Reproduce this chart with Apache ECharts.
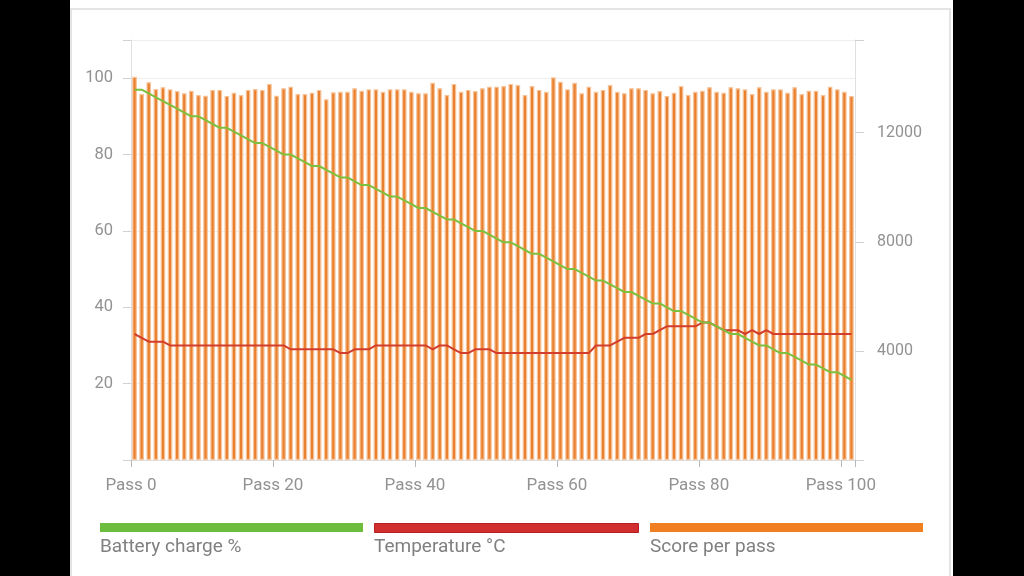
<!DOCTYPE html>
<html><head><meta charset="utf-8">
<script src="https://cdn.jsdelivr.net/npm/echarts@6/dist/echarts.min.js"></script>
<style>
html,body{margin:0;padding:0;background:#000;width:1024px;height:576px;overflow:hidden}
#panel{position:absolute;left:70px;top:0;width:883px;height:576px;background:#fff}
#card{position:absolute;left:70px;top:8px;width:881px;height:580px;border:2px solid #e4e4e4;border-bottom:none;box-sizing:border-box}
#chart{position:absolute;left:0;top:0;width:1024px;height:576px}
</style></head>
<body><div id="panel"></div><div id="card"></div><div id="chart"></div>
<script>
// Pass index of every test run
const passes = Array.from({length: 102}, (_, i) => i);

// Score per pass (right axis)
const scores = [
  14050,13420,13850,13600,13670,13590,13530,13450,13540,13380,
  13360,13570,13570,13350,13470,13380,13570,13600,13570,13790,
  13360,13630,13690,13420,13420,13470,13570,13230,13480,13500,
  13500,13630,13540,13590,
  13590,13500,13590,13590,13590,13500,13450,13450,13830,13630,
  13380,13790,13500,13570,13530,13630,13690,13690,13710,13790,
  13750,13380,13710,13570,13500,14030,13870,13590,13830,13450,
  13690,13500,13570,13750,13500,13450,13630,13630,13570,13450,
  13530,13350,
  13470,13710,13380,13500,13540,13670,13500,13470,13670,13630,
  13590,13420,13670,13500,13590,13590,13470,13670,13420,13540,
  13540,13380,13690,13590,13500,13350
];

// Battery charge % (left axis)
const battery = [
  97,97,96,95,94,93,92,91,90,90,89,88,87,87,86,85,84,83,83,82,
  81,80,80,79,78,77,77,76,75,74,74,73,72,72,71,70,69,69,68,67,
  66,66,65,64,63,63,62,61,60,60,59,58,57,57,56,55,54,54,53,52,
  51,50,50,49,48,47,47,46,45,44,44,43,42,41,41,40,39,39,38,37,
  36,36,35,34,33,33,32,31,30,30,29,28,28,27,26,25,25,24,23,23,
  22,21
];

// Temperature °C (left axis)
const temperature = [
  33,32,31,31,31,
  30,30,30,30,30,30,30,30,30,30,30,30,30,30,30,30,30,
  29,29,29,29,29,29,29,
  28,28,
  29,29,29,
  30,30,30,30,30,30,30,30,
  29,30,30,29,28,28,
  29,29,29,
  28,28,28,28,28,28,28,28,28,28,28,28,28,28,
  30,30,30,
  31,32,32,32,
  33,33,
  34,
  35,35,35,35,35,
  36,36,
  35,
  34,34,34,
  33,34,33,34,
  33,33,33,33,33,33,33,33,33,33,33,33
];

const leftTicks = [20, 40, 60, 80, 100];
const rightTicks = [4000, 8000, 12000];
const passTicks = [0, 20, 40, 60, 80, 100];

const seriesNames = ['Battery charge %', 'Temperature °C', 'Score per pass'];
const seriesColors = ['#6dbd3d', '#d12f2f', '#f07f22'];

const chart = echarts.init(document.getElementById('chart'));
const labelColor = '#929292';
const font = 'Roboto, "Noto Sans", sans-serif';

const legendGraphics = [];
const legendX = [100, 374, 650];
const legendW = [263, 264, 273];
seriesNames.forEach((n, i) => {
  legendGraphics.push({
    type: 'rect', left: legendX[i], top: 523,
    shape: {width: legendW[i], height: 9},
    style: {fill: seriesColors[i], stroke: i === 1 ? '#b52121' : null, lineWidth: i === 1 ? 1 : 0}
  });
  legendGraphics.push({
    type: 'text', left: legendX[i], top: 538,
    style: {text: n, fill: '#808080', font: '19px ' + font}
  });
});

chart.setOption({
  animation: false,
  backgroundColor: 'transparent',
  textStyle: {fontFamily: font},
  grid: {left: 131, right: 169, top: 40, bottom: 116, containLabel: false},
  xAxis: [
    {
      type: 'value', min: 0, max: 102, interval: 20, position: 'bottom',
      axisLine: {show: true, lineStyle: {color: '#dcdcdc', width: 1}},
      axisTick: {show: true, length: 7, lineStyle: {color: '#b8b8b8'}},
      axisLabel: {
        margin: 17, color: labelColor, fontSize: 17, fontFamily: font,
        formatter: v => passTicks.indexOf(v) >= 0 ? 'Pass ' + v : ''
      },
      splitLine: {show: false}
    },
    {
      type: 'category', data: passes, boundaryGap: true, show: false
    }
  ],
  yAxis: [
    {
      type: 'value', min: 0, max: 110, interval: 20, position: 'left',
      axisLine: {show: true, lineStyle: {color: '#e0e0e0'}},
      axisTick: {show: true, length: 8, lineStyle: {color: '#d0d0d0'}},
      axisLabel: {
        margin: 18, color: labelColor, fontSize: 16.5, fontFamily: font,
        formatter: v => leftTicks.indexOf(v) >= 0 ? String(v) : ''
      },
      splitLine: {show: true, lineStyle: {color: '#eeeeee'}}
    },
    {
      type: 'value', min: 0, max: 15400, interval: 4000, position: 'right',
      axisLine: {show: true, lineStyle: {color: '#e0e0e0'}},
      axisTick: {show: true, length: 9, lineStyle: {color: '#d0d0d0'}},
      axisLabel: {
        margin: 22, color: labelColor, fontSize: 16, fontFamily: font,
        formatter: v => rightTicks.indexOf(v) >= 0 ? String(v) : ''
      },
      splitLine: {show: false}
    }
  ],
  series: [
    {
      name: seriesNames[2], type: 'bar', xAxisIndex: 1, yAxisIndex: 1,
      data: scores, barWidth: 4.6,
      itemStyle: {color: '#e9802f', borderColor: '#f7c398', borderWidth: 1.2},
      z: 2
    },
    {
      name: seriesNames[0], type: 'line', xAxisIndex: 1, yAxisIndex: 0,
      data: battery, symbol: 'none',
      lineStyle: {color: '#7cc03e', width: 2}, itemStyle: {color: '#7cc03e'}, z: 4
    },
    {
      name: seriesNames[1], type: 'line', xAxisIndex: 1, yAxisIndex: 0,
      data: temperature, symbol: 'none',
      lineStyle: {color: '#d33d2c', width: 2}, itemStyle: {color: '#d33d2c'}, z: 3
    }
  ],
  graphic: legendGraphics
});
</script>
</body></html>
